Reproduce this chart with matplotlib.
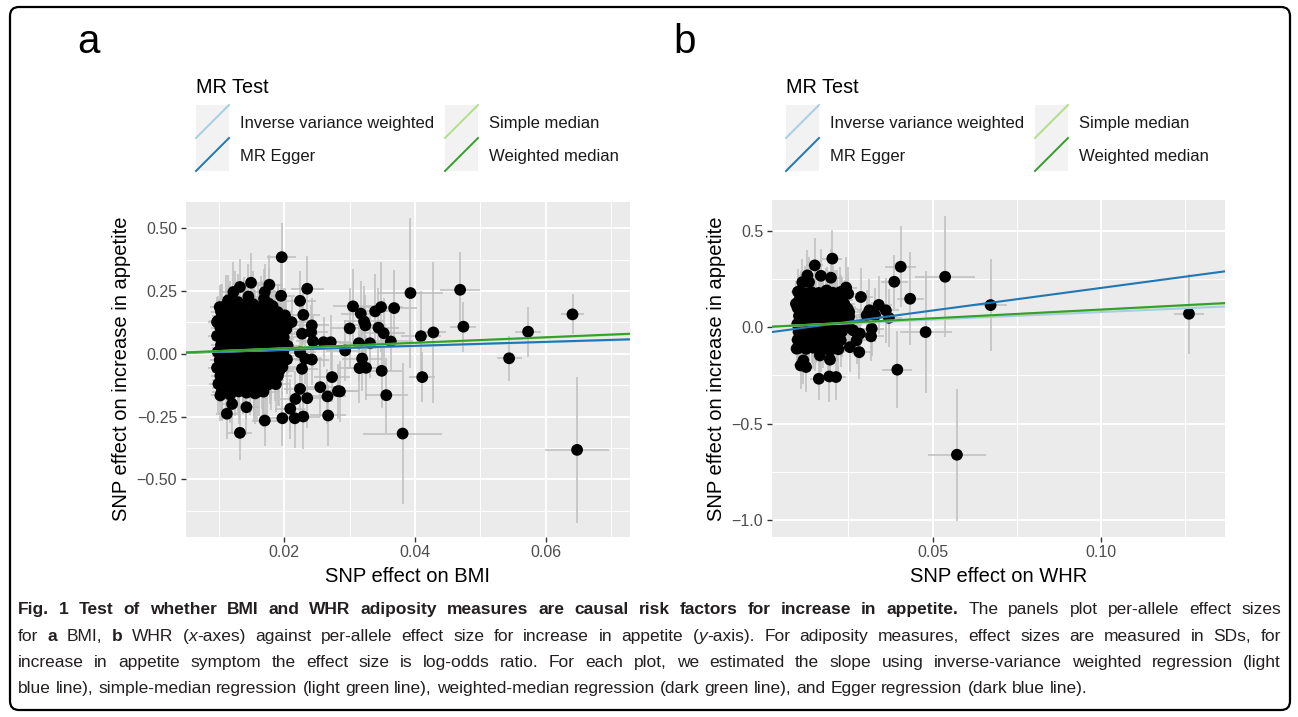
import re
import matplotlib
matplotlib.use("Agg")
import matplotlib.pyplot as plt
from matplotlib import font_manager
from matplotlib.patches import Rectangle, FancyBboxPatch
from matplotlib.lines import Line2D
from matplotlib.transforms import IdentityTransform

W, H = 1298, 717

# ---------------- data: panel a (BMI) ----------------
bmi_core_x = [
    0.0110, 0.0124, 0.0138, 0.0152, 0.0164, 0.0176,
    0.0103, 0.0117, 0.0128, 0.0141, 0.0153, 0.0166, 0.0178, 0.0190,
    0.0098, 0.0110, 0.0122, 0.0136, 0.0147, 0.0159, 0.0173, 0.0185, 0.0198,
    0.0102, 0.0116, 0.0129, 0.0140, 0.0154, 0.0165, 0.0179, 0.0191, 0.0203,
    0.0097, 0.0111, 0.0123, 0.0134, 0.0148, 0.0161, 0.0171, 0.0186, 0.0199,
    0.0103, 0.0115, 0.0128, 0.0142, 0.0152, 0.0167, 0.0178, 0.0192, 0.0205,
    0.0098, 0.0109, 0.0124, 0.0135, 0.0147, 0.0160, 0.0173, 0.0185, 0.0198,
    0.0101, 0.0116, 0.0127, 0.0141, 0.0154, 0.0166, 0.0179, 0.0191, 0.0204,
    0.0097, 0.0110, 0.0122, 0.0136, 0.0148, 0.0159, 0.0172, 0.0186, 0.0197,
    0.0102, 0.0115, 0.0129, 0.0140, 0.0153, 0.0167, 0.0178, 0.0190,
    0.0099, 0.0111, 0.0124, 0.0136, 0.0147, 0.0161, 0.0174, 0.0187,
    0.0104, 0.0117, 0.0130, 0.0142, 0.0155, 0.0168]
bmi_core_y = [
    0.192, 0.189, 0.195, 0.198, 0.188, 0.200,
    0.168, 0.160, 0.171, 0.163, 0.158, 0.170, 0.162, 0.166,
    0.131, 0.138, 0.128, 0.135, 0.130, 0.137, 0.129, 0.134, 0.131,
    0.104, 0.097, 0.102, 0.099, 0.106, 0.100, 0.096, 0.103, 0.098,
    0.071, 0.066, 0.072, 0.068, 0.064, 0.070, 0.067, 0.073, 0.065,
    0.035, 0.040, 0.033, 0.038, 0.041, 0.034, 0.039, 0.036, 0.032,
    0.007, 0.002, 0.008, 0.004, 0.001, 0.006, 0.003, 0.009, 0.004,
    -0.025, -0.030, -0.023, -0.028, -0.031, -0.024, -0.029, -0.026, -0.022,
    -0.056, -0.061, -0.054, -0.059, -0.062, -0.055, -0.060, -0.057, -0.053,
    -0.088, -0.093, -0.086, -0.091, -0.094, -0.087, -0.092, -0.089,
    -0.120, -0.125, -0.118, -0.123, -0.126, -0.119, -0.124, -0.121,
    -0.152, -0.157, -0.150, -0.155, -0.158, -0.151]
bmi_core_sx = [
    0.0016, 0.0018, 0.0017, 0.0019, 0.0020, 0.0021,
    0.0015, 0.0017, 0.0016, 0.0018, 0.0019, 0.0020, 0.0019, 0.0022,
    0.0014, 0.0016, 0.0017, 0.0018, 0.0017, 0.0020, 0.0019, 0.0021, 0.0022,
    0.0015, 0.0016, 0.0018, 0.0017, 0.0019, 0.0020, 0.0021, 0.0020, 0.0023,
    0.0014, 0.0017, 0.0016, 0.0018, 0.0019, 0.0018, 0.0020, 0.0022, 0.0021,
    0.0015, 0.0016, 0.0017, 0.0019, 0.0018, 0.0020, 0.0021, 0.0022, 0.0023,
    0.0014, 0.0015, 0.0017, 0.0018, 0.0019, 0.0019, 0.0020, 0.0021, 0.0022,
    0.0015, 0.0017, 0.0016, 0.0018, 0.0020, 0.0019, 0.0021, 0.0020, 0.0023,
    0.0014, 0.0016, 0.0017, 0.0017, 0.0019, 0.0020, 0.0019, 0.0022, 0.0021,
    0.0015, 0.0016, 0.0018, 0.0018, 0.0019, 0.0021, 0.0020, 0.0022,
    0.0014, 0.0016, 0.0017, 0.0018, 0.0019, 0.0020, 0.0021, 0.0021,
    0.0015, 0.0017, 0.0016, 0.0018, 0.0020, 0.0019]
bmi_core_sy = [
    0.12, 0.14, 0.11, 0.13, 0.12, 0.14,
    0.11, 0.13, 0.12, 0.10, 0.14, 0.12, 0.13, 0.11,
    0.10, 0.12, 0.13, 0.11, 0.12, 0.14, 0.10, 0.12, 0.13,
    0.11, 0.12, 0.10, 0.13, 0.11, 0.12, 0.14, 0.11, 0.12,
    0.12, 0.10, 0.13, 0.12, 0.11, 0.13, 0.12, 0.10, 0.14,
    0.10, 0.13, 0.11, 0.12, 0.14, 0.11, 0.12, 0.13, 0.11,
    0.11, 0.12, 0.10, 0.13, 0.12, 0.11, 0.14, 0.12, 0.10,
    0.12, 0.11, 0.13, 0.10, 0.12, 0.13, 0.11, 0.12, 0.14,
    0.10, 0.12, 0.11, 0.13, 0.12, 0.10, 0.12, 0.13, 0.11,
    0.11, 0.13, 0.12, 0.10, 0.12, 0.14, 0.11, 0.12,
    0.12, 0.10, 0.13, 0.11, 0.12, 0.13, 0.12, 0.11,
    0.11, 0.12, 0.13, 0.10, 0.12, 0.14]

# extra SNPs packed between the rows above (the blob is solid black)
bmi_fill_x = [
    0.0105, 0.0116, 0.0130, 0.0142, 0.0153, 0.0167, 0.0179, 0.0190,
    0.0103, 0.0118, 0.0129, 0.0141, 0.0155, 0.0165, 0.0178, 0.0192,
    0.0104, 0.0117, 0.0130, 0.0142, 0.0154, 0.0166, 0.0179, 0.0191,
    0.0105, 0.0116, 0.0128, 0.0141, 0.0155, 0.0167, 0.0178, 0.0192,
    0.0103, 0.0117, 0.0130, 0.0142, 0.0153, 0.0166, 0.0180, 0.0191,
    0.0104, 0.0118, 0.0129, 0.0141, 0.0154, 0.0167, 0.0179, 0.0192,
    0.0105, 0.0116, 0.0130, 0.0142, 0.0153, 0.0166, 0.0178, 0.0191,
    0.0103, 0.0117, 0.0129, 0.0141, 0.0155, 0.0167, 0.0180, 0.0192,
    0.0104, 0.0118, 0.0130, 0.0142, 0.0154, 0.0166, 0.0179,
    0.0105, 0.0116, 0.0129, 0.0141, 0.0153, 0.0167]
bmi_fill_y = [
    0.150, 0.146, 0.152, 0.147, 0.151, 0.145, 0.149, 0.153,
    0.118, 0.114, 0.120, 0.116, 0.113, 0.119, 0.115, 0.121,
    0.086, 0.082, 0.088, 0.084, 0.087, 0.081, 0.085, 0.089,
    0.054, 0.050, 0.056, 0.052, 0.055, 0.049, 0.053, 0.057,
    0.022, 0.018, 0.024, 0.020, 0.023, 0.017, 0.021, 0.025,
    -0.010, -0.014, -0.008, -0.012, -0.009, -0.015, -0.011, -0.007,
    -0.041, -0.045, -0.039, -0.043, -0.040, -0.046, -0.042, -0.038,
    -0.073, -0.077, -0.071, -0.075, -0.072, -0.078, -0.074, -0.070,
    -0.105, -0.109, -0.103, -0.107, -0.104, -0.110, -0.106,
    -0.137, -0.141, -0.135, -0.139, -0.136, -0.142]
bmi_fill_sx = [
    0.0015, 0.0016, 0.0018, 0.0017, 0.0019, 0.0020, 0.0021, 0.0020,
    0.0014, 0.0017, 0.0016, 0.0018, 0.0020, 0.0019, 0.0021, 0.0022,
    0.0015, 0.0016, 0.0017, 0.0019, 0.0018, 0.0020, 0.0022, 0.0021,
    0.0016, 0.0015, 0.0018, 0.0017, 0.0019, 0.0021, 0.0020, 0.0022,
    0.0014, 0.0016, 0.0017, 0.0018, 0.0020, 0.0019, 0.0021, 0.0023,
    0.0015, 0.0017, 0.0016, 0.0019, 0.0018, 0.0020, 0.0021, 0.0022,
    0.0016, 0.0015, 0.0018, 0.0017, 0.0019, 0.0020, 0.0022, 0.0021,
    0.0014, 0.0016, 0.0017, 0.0018, 0.0020, 0.0019, 0.0021, 0.0022,
    0.0015, 0.0017, 0.0016, 0.0019, 0.0018, 0.0020, 0.0021,
    0.0016, 0.0015, 0.0018, 0.0017, 0.0019, 0.0020]
bmi_fill_sy = [
    0.13, 0.11, 0.12, 0.14, 0.10, 0.12, 0.13, 0.11,
    0.12, 0.13, 0.10, 0.12, 0.14, 0.11, 0.12, 0.13,
    0.11, 0.12, 0.13, 0.10, 0.12, 0.14, 0.11, 0.12,
    0.13, 0.10, 0.12, 0.11, 0.13, 0.12, 0.14, 0.10,
    0.12, 0.11, 0.14, 0.12, 0.10, 0.13, 0.11, 0.12,
    0.10, 0.13, 0.12, 0.11, 0.12, 0.14, 0.12, 0.11,
    0.12, 0.12, 0.11, 0.13, 0.12, 0.10, 0.13, 0.12,
    0.11, 0.13, 0.12, 0.12, 0.10, 0.12, 0.11, 0.14,
    0.12, 0.11, 0.13, 0.12, 0.14, 0.11, 0.12,
    0.13, 0.12, 0.11, 0.12, 0.13, 0.11]

bmi_outer_x = [
    0.0196, 0.0149, 0.0132, 0.0122, 0.0114, 0.0129, 0.0145, 0.0177, 0.0170, 0.0169,
    0.0195, 0.0235, 0.0224, 0.0182, 0.0229, 0.0201, 0.0211, 0.0242, 0.0101, 0.0097,
    0.0102, 0.0117, 0.0112, 0.0132, 0.0120, 0.0142, 0.0136, 0.0158, 0.0170, 0.0197,
    0.0209, 0.0217, 0.0216, 0.0229, 0.0235, 0.0224, 0.0227, 0.0242, 0.0267, 0.0266,
    0.0255, 0.0273, 0.0282, 0.0260, 0.0271, 0.0293, 0.0244, 0.0224, 0.0232, 0.0227,
    0.0241, 0.0305, 0.0317, 0.0322, 0.0324, 0.0300, 0.0339, 0.0348, 0.0368, 0.0393,
    0.0469, 0.0474, 0.0344, 0.0352, 0.0363, 0.0409, 0.0428, 0.0314, 0.0331, 0.0319,
    0.0315, 0.0325, 0.0349, 0.0411, 0.0356, 0.0381, 0.0544, 0.0573, 0.0641, 0.0648,
    0.0285]
bmi_outer_y = [
    0.385, 0.283, 0.266, 0.246, 0.213, 0.206, 0.228, 0.275, 0.246, 0.219,
    0.231, 0.259, 0.211, 0.190, 0.155, 0.153, 0.126, 0.113, 0.186, 0.126,
    -0.166, -0.163, -0.239, -0.315, -0.200, -0.213, -0.140, -0.153, -0.266, -0.257,
    -0.219, -0.180, -0.257, -0.250, -0.177, -0.140, -0.060, -0.023, -0.246, -0.170,
    -0.133, -0.093, -0.149, 0.046, 0.046, 0.013, 0.049, 0.006, -0.020, 0.080,
    0.086, 0.189, 0.160, 0.129, 0.113, 0.101, 0.169, 0.186, 0.182, 0.242,
    0.255, 0.108, 0.104, 0.082, 0.049, 0.070, 0.085, 0.042, 0.042, -0.019,
    -0.057, -0.056, -0.068, -0.093, -0.165, -0.318, -0.018, 0.088, 0.157, -0.383,
    -0.150]
bmi_outer_sx = [
    0.0022, 0.0020, 0.0018, 0.0017, 0.0016, 0.0018, 0.0019, 0.0021, 0.0020, 0.0020,
    0.0022, 0.0025, 0.0024, 0.0021, 0.0025, 0.0022, 0.0023, 0.0026, 0.0015, 0.0014,
    0.0015, 0.0016, 0.0016, 0.0018, 0.0017, 0.0019, 0.0018, 0.0020, 0.0020, 0.0022,
    0.0023, 0.0023, 0.0024, 0.0025, 0.0025, 0.0024, 0.0024, 0.0026, 0.0028, 0.0028,
    0.0027, 0.0028, 0.0029, 0.0027, 0.0028, 0.0029, 0.0026, 0.0024, 0.0025, 0.0024,
    0.0026, 0.0030, 0.0031, 0.0031, 0.0032, 0.0030, 0.0033, 0.0033, 0.0035, 0.0050,
    0.0031, 0.0020, 0.0032, 0.0033, 0.0034, 0.0030, 0.0020, 0.0031, 0.0032, 0.0031,
    0.0031, 0.0032, 0.0033, 0.0020, 0.0033, 0.0060, 0.0019, 0.0020, 0.0017, 0.0049,
    0.0029]
bmi_outer_sy = [
    0.135, 0.12, 0.11, 0.12, 0.10, 0.11, 0.13, 0.12, 0.11, 0.12,
    0.14, 0.13, 0.12, 0.10, 0.12, 0.11, 0.10, 0.11, 0.09, 0.10,
    0.10, 0.11, 0.10, 0.11, 0.12, 0.11, 0.10, 0.12, 0.10, 0.11,
    0.12, 0.11, 0.12, 0.13, 0.12, 0.10, 0.11, 0.10, 0.12, 0.11,
    0.12, 0.10, 0.11, 0.10, 0.11, 0.12, 0.10, 0.11, 0.10, 0.12,
    0.11, 0.15, 0.13, 0.14, 0.12, 0.16, 0.15, 0.18, 0.15, 0.30,
    0.15, 0.10, 0.16, 0.14, 0.12, 0.18, 0.28, 0.15, 0.14, 0.13,
    0.14, 0.13, 0.15, 0.10, 0.15, 0.28, 0.09, 0.10, 0.08, 0.29,
    0.12]

# ---------------- data: panel b (WHR) ----------------
whr_core_x = [
    0.0100, 0.0121, 0.0140, 0.0162, 0.0183, 0.0204, 0.0226,
    0.0104, 0.0126, 0.0146, 0.0167, 0.0189, 0.0210, 0.0231,
    0.0099, 0.0120, 0.0142, 0.0163, 0.0184, 0.0205, 0.0227, 0.0247,
    0.0103, 0.0125, 0.0145, 0.0168, 0.0188, 0.0209, 0.0230, 0.0252,
    0.0098, 0.0121, 0.0141, 0.0162, 0.0185, 0.0206, 0.0226, 0.0249,
    0.0102, 0.0124, 0.0146, 0.0166, 0.0187, 0.0208, 0.0231,
    0.0099, 0.0121, 0.0142, 0.0163, 0.0184, 0.0206, 0.0227,
    0.0103, 0.0124, 0.0145, 0.0167, 0.0188]
whr_core_y = [
    0.183, 0.176, 0.181, 0.177, 0.185, 0.178, 0.182,
    0.141, 0.135, 0.139, 0.136, 0.142, 0.134, 0.140,
    0.099, 0.094, 0.100, 0.095, 0.098, 0.093, 0.101, 0.096,
    0.058, 0.052, 0.057, 0.053, 0.056, 0.051, 0.059, 0.054,
    0.016, 0.011, 0.017, 0.012, 0.015, 0.010, 0.018, 0.013,
    -0.025, -0.030, -0.024, -0.029, -0.026, -0.031, -0.023,
    -0.066, -0.072, -0.067, -0.071, -0.065, -0.070, -0.068,
    -0.108, -0.113, -0.107, -0.112, -0.109]
whr_core_sx = [
    0.0020, 0.0022, 0.0024, 0.0025, 0.0027, 0.0028, 0.0030,
    0.0019, 0.0023, 0.0024, 0.0026, 0.0027, 0.0029, 0.0031,
    0.0020, 0.0021, 0.0024, 0.0025, 0.0026, 0.0028, 0.0030, 0.0032,
    0.0019, 0.0022, 0.0023, 0.0026, 0.0027, 0.0029, 0.0031, 0.0033,
    0.0020, 0.0021, 0.0024, 0.0025, 0.0027, 0.0028, 0.0030, 0.0032,
    0.0019, 0.0022, 0.0024, 0.0025, 0.0026, 0.0029, 0.0030,
    0.0020, 0.0021, 0.0023, 0.0025, 0.0027, 0.0028, 0.0031,
    0.0019, 0.0022, 0.0024, 0.0026, 0.0027]
whr_core_sy = [
    0.12, 0.14, 0.13, 0.15, 0.12, 0.14, 0.13,
    0.13, 0.12, 0.14, 0.12, 0.15, 0.13, 0.12,
    0.12, 0.13, 0.11, 0.14, 0.12, 0.13, 0.15, 0.12,
    0.13, 0.11, 0.12, 0.14, 0.13, 0.12, 0.13, 0.14,
    0.12, 0.13, 0.14, 0.11, 0.12, 0.15, 0.13, 0.12,
    0.13, 0.12, 0.11, 0.13, 0.14, 0.12, 0.13,
    0.12, 0.14, 0.12, 0.13, 0.11, 0.12, 0.14,
    0.12, 0.13, 0.11, 0.12, 0.14]

whr_fill_x = [
    0.0110, 0.0131, 0.0152, 0.0173, 0.0194, 0.0215,
    0.0109, 0.0132, 0.0153, 0.0174, 0.0195, 0.0216, 0.0238,
    0.0111, 0.0130, 0.0151, 0.0172, 0.0196, 0.0217, 0.0237,
    0.0110, 0.0132, 0.0153, 0.0173, 0.0194, 0.0215, 0.0238,
    0.0109, 0.0131, 0.0152, 0.0174, 0.0195, 0.0216, 0.0237,
    0.0111, 0.0130, 0.0153, 0.0173, 0.0194, 0.0217,
    0.0110, 0.0132, 0.0152, 0.0174, 0.0195]
whr_fill_y = [
    0.160, 0.156, 0.162, 0.157, 0.161, 0.155,
    0.119, 0.115, 0.121, 0.116, 0.120, 0.114, 0.118,
    0.077, 0.073, 0.079, 0.074, 0.078, 0.072, 0.076,
    0.035, 0.031, 0.037, 0.032, 0.036, 0.030, 0.034,
    -0.005, -0.009, -0.003, -0.008, -0.004, -0.010, -0.006,
    -0.047, -0.051, -0.045, -0.050, -0.046, -0.049,
    -0.088, -0.092, -0.086, -0.091, -0.087]
whr_fill_sx = [
    0.0021, 0.0023, 0.0024, 0.0026, 0.0027, 0.0029,
    0.0020, 0.0022, 0.0025, 0.0026, 0.0028, 0.0029, 0.0031,
    0.0021, 0.0023, 0.0024, 0.0025, 0.0027, 0.0030, 0.0031,
    0.0020, 0.0022, 0.0024, 0.0026, 0.0028, 0.0029, 0.0032,
    0.0021, 0.0023, 0.0025, 0.0026, 0.0027, 0.0029, 0.0030,
    0.0020, 0.0022, 0.0024, 0.0025, 0.0028, 0.0029,
    0.0021, 0.0023, 0.0024, 0.0026, 0.0027]
whr_fill_sy = [
    0.13, 0.12, 0.14, 0.12, 0.13, 0.14,
    0.12, 0.14, 0.12, 0.13, 0.11, 0.13, 0.12,
    0.13, 0.12, 0.14, 0.12, 0.13, 0.12, 0.14,
    0.12, 0.13, 0.12, 0.14, 0.12, 0.13, 0.12,
    0.14, 0.12, 0.13, 0.12, 0.14, 0.12, 0.13,
    0.12, 0.13, 0.14, 0.12, 0.13, 0.12,
    0.13, 0.12, 0.14, 0.12, 0.13]

whr_outer_x = [
    0.0202, 0.0150, 0.0128, 0.0168, 0.0198, 0.0113, 0.0133, 0.0185, 0.0243, 0.0249,
    0.0210, 0.0287, 0.0252, 0.0312, 0.0340, 0.0361, 0.0329, 0.0370, 0.0304, 0.0264,
    0.0284, 0.0274, 0.0254, 0.0282, 0.0220, 0.0195, 0.0195, 0.0165, 0.0116, 0.0124,
    0.0108, 0.0162, 0.0193, 0.0213, 0.0096, 0.0094, 0.0108, 0.0227, 0.0240, 0.0215,
    0.0319, 0.0317, 0.0386, 0.0405, 0.0433, 0.0479, 0.0395, 0.0537, 0.0572, 0.0672,
    0.1261]
whr_outer_y = [
    0.355, 0.320, 0.268, 0.266, 0.256, 0.233, 0.233, 0.190, 0.205, 0.173,
    0.164, 0.156, 0.078, 0.087, 0.115, 0.087, 0.061, 0.048, 0.061, -0.017,
    -0.034, -0.069, -0.104, -0.130, -0.115, -0.121, -0.169, -0.147, -0.173, -0.207,
    -0.199, -0.268, -0.256, -0.259, -0.112, 0.121, 0.147, 0.138, 0.104, 0.035,
    -0.008, -0.048, 0.235, 0.313, 0.147, -0.026, -0.221, 0.261, -0.662, 0.114,
    0.069]
whr_outer_sx = [
    0.0030, 0.0025, 0.0022, 0.0026, 0.0028, 0.0020, 0.0022, 0.0027, 0.0032, 0.0032,
    0.0030, 0.0035, 0.0032, 0.0037, 0.0038, 0.0040, 0.0037, 0.0040, 0.0036, 0.0033,
    0.0034, 0.0034, 0.0032, 0.0034, 0.0030, 0.0028, 0.0028, 0.0026, 0.0021, 0.0022,
    0.0020, 0.0025, 0.0028, 0.0030, 0.0018, 0.0018, 0.0020, 0.0031, 0.0032, 0.0030,
    0.0037, 0.0037, 0.0040, 0.0046, 0.0040, 0.0077, 0.0045, 0.0090, 0.0085, 0.0048,
    0.0044]
whr_outer_sy = [
    0.15, 0.14, 0.13, 0.14, 0.15, 0.12, 0.13, 0.12, 0.16, 0.14,
    0.13, 0.15, 0.12, 0.16, 0.15, 0.17, 0.14, 0.15, 0.13, 0.12,
    0.13, 0.12, 0.13, 0.14, 0.12, 0.13, 0.12, 0.11, 0.12, 0.13,
    0.12, 0.11, 0.13, 0.12, 0.11, 0.12, 0.12, 0.13, 0.14, 0.12,
    0.14, 0.13, 0.14, 0.21, 0.24, 0.316, 0.20, 0.314, 0.343, 0.24,
    0.206]

# MR fits (intercept, slope) per method
methods = ["Inverse variance weighted", "MR Egger", "Simple median", "Weighted median"]
method_colors = ["#A6CEE3", "#1F78B4", "#B2DF8A", "#33A02C"]
bmi_intercepts = [0.0, 0.0001, 0.0, 0.0]
bmi_slopes = [0.77, 0.79, 1.07, 1.095]
whr_intercepts = [0.0, -0.031, 0.0, 0.0]
whr_slopes = [0.78, 2.34, 0.89, 0.91]

bmi_xticks = [0.02, 0.04, 0.06]
bmi_xtick_labels = ["0.02", "0.04", "0.06"]
bmi_yticks = [-0.5, -0.25, 0.0, 0.25, 0.5]
bmi_ytick_labels = ["\u22120.50", "\u22120.25", "0.00", "0.25", "0.50"]
whr_xticks = [0.05, 0.10]
whr_xtick_labels = ["0.05", "0.10"]
whr_yticks = [-1.0, -0.5, 0.0, 0.5]
whr_ytick_labels = ["\u22121.0", "\u22120.5", "0.0", "0.5"]

plt.rcParams["font.family"] = ["Liberation Sans", "DejaVu Sans"]

fig = plt.figure(figsize=(W / 100, H / 100), dpi=100)
PX = IdentityTransform()


def ypx(y):
    return H - y


def panel(rect, xs, ys, sxs, sys_, b0s, b1s, xlim, ylim, xt, xtl, xmin, yt, ytl, ymin, xlabel):
    l, t, r, b = rect
    ax = fig.add_axes([l / W, 1 - b / H, (r - l) / W, (b - t) / H])
    ax.set_facecolor("#EBEBEB")
    for s in ax.spines.values():
        s.set_visible(False)
    ax.errorbar(xs, ys, xerr=sxs, yerr=sys_, fmt="none", ecolor="#BEBEBE",
                elinewidth=1.1, capsize=0, zorder=2)
    ax.scatter(xs, ys, s=72, c="black", edgecolors="none", zorder=3)
    for b0, b1, c in zip(b0s, b1s, method_colors):
        ax.axline((0, b0), slope=b1, color=c, lw=1.5, zorder=4)
    ax.set_xlim(*xlim)
    ax.set_ylim(*ylim)
    ax.set_xticks(xt)
    ax.set_xticklabels(xtl)
    ax.set_xticks(xmin, minor=True)
    ax.set_yticks(yt)
    ax.set_yticklabels(ytl)
    ax.set_yticks(ymin, minor=True)
    ax.grid(which="major", color="white", lw=1.3)
    ax.grid(which="minor", color="white", lw=0.65)
    ax.set_axisbelow(True)
    ax.tick_params(which="major", length=3.6, width=1.0, color="#333333",
                   labelcolor="#4D4D4D", labelsize=11.5, pad=2.5)
    ax.tick_params(which="minor", length=0)
    ax.set_xlabel(xlabel, fontsize=14.5, labelpad=5)
    ax.set_ylabel("SNP effect on increase in appetite", fontsize=14.5, labelpad=4)
    return ax


panel((185.7, 201.7, 630, 536.7),
      bmi_core_x + bmi_fill_x + bmi_outer_x, bmi_core_y + bmi_fill_y + bmi_outer_y,
      bmi_core_sx + bmi_fill_sx + bmi_outer_sx, bmi_core_sy + bmi_fill_sy + bmi_outer_sy,
      bmi_intercepts, bmi_slopes, (0.0049, 0.0729), (-0.729, 0.606),
      bmi_xticks, bmi_xtick_labels, [0.01, 0.03, 0.05, 0.07],
      bmi_yticks, bmi_ytick_labels, [-0.625, -0.375, -0.125, 0.125, 0.375],
      "SNP effect on BMI")
panel((771.7, 200, 1225, 536.7),
      whr_core_x + whr_fill_x + whr_outer_x, whr_core_y + whr_fill_y + whr_outer_y,
      whr_core_sx + whr_fill_sx + whr_outer_sx, whr_core_sy + whr_fill_sy + whr_outer_sy,
      whr_intercepts, whr_slopes, (0.0022, 0.1368), (-1.087, 0.659),
      whr_xticks, whr_xtick_labels, [0.025, 0.075, 0.125],
      whr_yticks, whr_ytick_labels, [-0.75, -0.25, 0.25],
      "SNP effect on WHR")


def legend(x0):
    fig.text(x0, ypx(93), "MR Test", fontsize=14.3, transform=PX, va="baseline")
    key = 33
    for col, (i, j) in enumerate([(0, 1), (2, 3)]):
        kx = x0 + col * 249
        for row, m in enumerate((i, j)):
            ky = 105 + row * key
            fig.add_artist(Rectangle((kx, ypx(ky + key)), key, key, transform=PX,
                                     facecolor="#F2F2F2", edgecolor="none"))
            fig.add_artist(Line2D([kx, kx + key], [ypx(ky + key), ypx(ky)],
                                  transform=PX, color=method_colors[m], lw=1.4))
            fig.text(kx + 44, ypx(127.7 + row * 33), methods[m], fontsize=12,
                     transform=PX, va="baseline", color="#1A1A1A")


legend(196)
legend(786)

fig.text(77, ypx(53), "a", fontsize=29, transform=PX, va="baseline")
fig.text(673, ypx(53), "b", fontsize=29, transform=PX, va="baseline")

# outer frame
fig.add_artist(FancyBboxPatch((10, ypx(710)), 1280, 703, transform=PX,
                              boxstyle="round,pad=0,rounding_size=9",
                              facecolor="none", edgecolor="black", lw=1.6))

# ---------------- caption ----------------
names = {f.name for f in font_manager.fontManager.ttflist}
cap_family = "Liberation Sans Narrow" if "Liberation Sans Narrow" in names else "Liberation Sans"

cap_lines = [
    [("Fig. 1 Test of whether BMI and WHR adiposity measures are causal risk factors for increase in appetite.", "bold", "normal"),
     (" The panels plot per-allele effect sizes", "normal", "normal")],
    [("for ", "normal", "normal"), ("a", "bold", "normal"), (" BMI, ", "normal", "normal"),
     ("b", "bold", "normal"), (" WHR (", "normal", "normal"), ("x", "normal", "italic"),
     ("-axes) against per-allele effect size for increase in appetite (", "normal", "normal"),
     ("y", "normal", "italic"),
     ("-axis). For adiposity measures, effect sizes are measured in SDs, for", "normal", "normal")],
    [("increase in appetite symptom the effect size is log-odds ratio. For each plot, we estimated the slope using inverse-variance weighted regression (light", "normal", "normal")],
    [("blue line), simple-median regression (light green line), weighted-median regression (dark green line), and Egger regression (dark blue line).", "normal", "normal")],
]
cap_baselines = [614, 641, 667, 693]
cap_left, cap_right = 18, 1281
renderer = fig.canvas.get_renderer()


def tokens_of(segs):
    toks, space = [], False
    for txt, wt, st in segs:
        for m in re.finditer(r"\S+|\s+", txt):
            s = m.group(0)
            if s.isspace():
                space = True
            else:
                toks.append((s, wt, st, space))
                space = False
    return toks


def width(s, size, wt="normal", st="normal"):
    t = fig.text(0, 0, s, fontsize=size, family=cap_family, weight=wt, style=st, transform=PX)
    w = t.get_window_extent(renderer).width
    t.remove()
    return w


def natural(segs, size):
    toks = tokens_of(segs)
    sp = width("a a", size) - width("aa", size)
    ws = [width(s, size, wt, st) for s, wt, st, _ in toks]
    return sum(ws) + sp * sum(1 for tk in toks if tk[3]), toks, ws, sp


size = 12.5
widest = max(natural(segs, size)[0] for segs in cap_lines[:3])
if widest > (cap_right - cap_left):
    size = size * (cap_right - cap_left) / widest * 0.99

for k, segs in enumerate(cap_lines):
    nat, toks, ws, sp = natural(segs, size)
    nsp = sum(1 for tk in toks if tk[3])
    if k < 3 and nsp:
        sp = sp + (cap_right - cap_left - nat) / nsp
    x = cap_left
    for (s, wt, st, spb), w in zip(toks, ws):
        if spb:
            x += sp
        fig.text(x, ypx(cap_baselines[k]), s, fontsize=size, family=cap_family,
                 weight=wt, style=st, transform=PX, va="baseline", color="#231F20")
        x += w

fig.savefig("out.png", dpi=100)
